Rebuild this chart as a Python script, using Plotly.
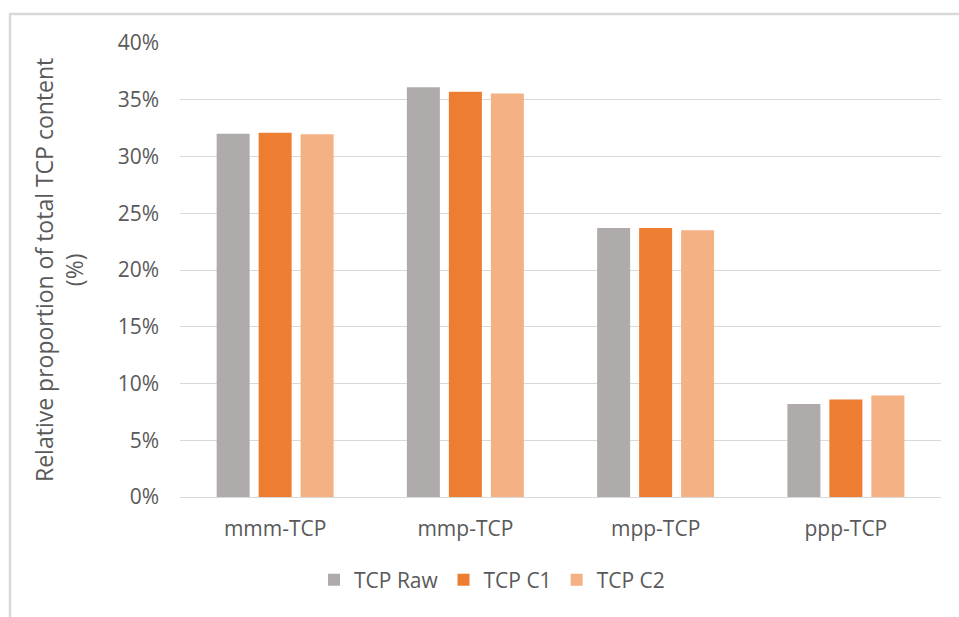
import plotly.graph_objects as go

# Isomer groups and relative proportions (%) for each TCP dataset
categories = ["mmm-TCP", "mmp-TCP", "mpp-TCP", "ppp-TCP"]
tcp_raw = [32.0, 36.1, 23.7, 8.2]
tcp_c1 = [32.1, 35.7, 23.7, 8.6]
tcp_c2 = [31.95, 35.55, 23.5, 8.95]

y_ticks = [0, 5, 10, 15, 20, 25, 30, 35, 40]
y_tick_text = [f"{v}%" for v in y_ticks]

series = [
    ("TCP Raw", tcp_raw, "#AFABAB"),
    ("TCP C1", tcp_c1, "#ED7D31"),
    ("TCP C2", tcp_c2, "#F4B183"),
]

FONT = "Open Sans"
TEXT = "#595959"
GRID = "#D9D9D9"

fig = go.Figure()
for name, vals, color in series:
    fig.add_trace(go.Bar(
        x=categories, y=vals, name=name,
        marker=dict(color=color, line=dict(width=0)),
    ))

W, H = 959, 617
L, R, T, B = 180, 18, 43, 120
pw, ph = W - L - R, H - T - B

def px_x(p):
    return (p - L) / pw

def px_y(p):
    return (H - B - p) / ph

fig.update_layout(
    width=W, height=H,
    margin=dict(l=L, r=R, t=T, b=B),
    paper_bgcolor="white", plot_bgcolor="white",
    barmode="group", bargap=0.338, bargroupgap=0.214,
    font=dict(family=FONT, color=TEXT, size=21),
    showlegend=True,
    legend=dict(
        orientation="h", x=px_x(492), y=px_y(580),
        xanchor="center", yanchor="middle",
        font=dict(family=FONT, size=21, color=TEXT),
        itemsizing="constant", traceorder="normal",
        itemwidth=30,
    ),
    xaxis=dict(
        showgrid=False, showline=False, zeroline=False,
        ticks="", tickfont=dict(family=FONT, size=21, color=TEXT),
        ticklabelstandoff=17,
    ),
    yaxis=dict(
        range=[0, 40], tickvals=y_ticks, ticktext=y_tick_text,
        showgrid=True, gridcolor=GRID, gridwidth=1,
        zeroline=True, zerolinecolor=GRID, zerolinewidth=1,
        showline=False, ticks="",
        tickfont=dict(family=FONT, size=21, color=TEXT),
        ticklabelstandoff=20,
    ),
    annotations=[dict(
        text="Relative proportion of total TCP content<br>(%)",
        xref="paper", yref="paper", x=px_x(59), y=0.5,
        xanchor="center", yanchor="middle", textangle=-90,
        showarrow=False, font=dict(family=FONT, size=23, color=TEXT),
    )],
    shapes=[dict(
        type="rect", xref="paper", yref="paper",
        x0=px_x(10), x1=px_x(W + 10), y0=px_y(H + 10), y1=px_y(14),
        line=dict(color=GRID, width=2.5), fillcolor="rgba(0,0,0,0)",
        layer="below",
    )],
)

fig.write_html("out.html")
